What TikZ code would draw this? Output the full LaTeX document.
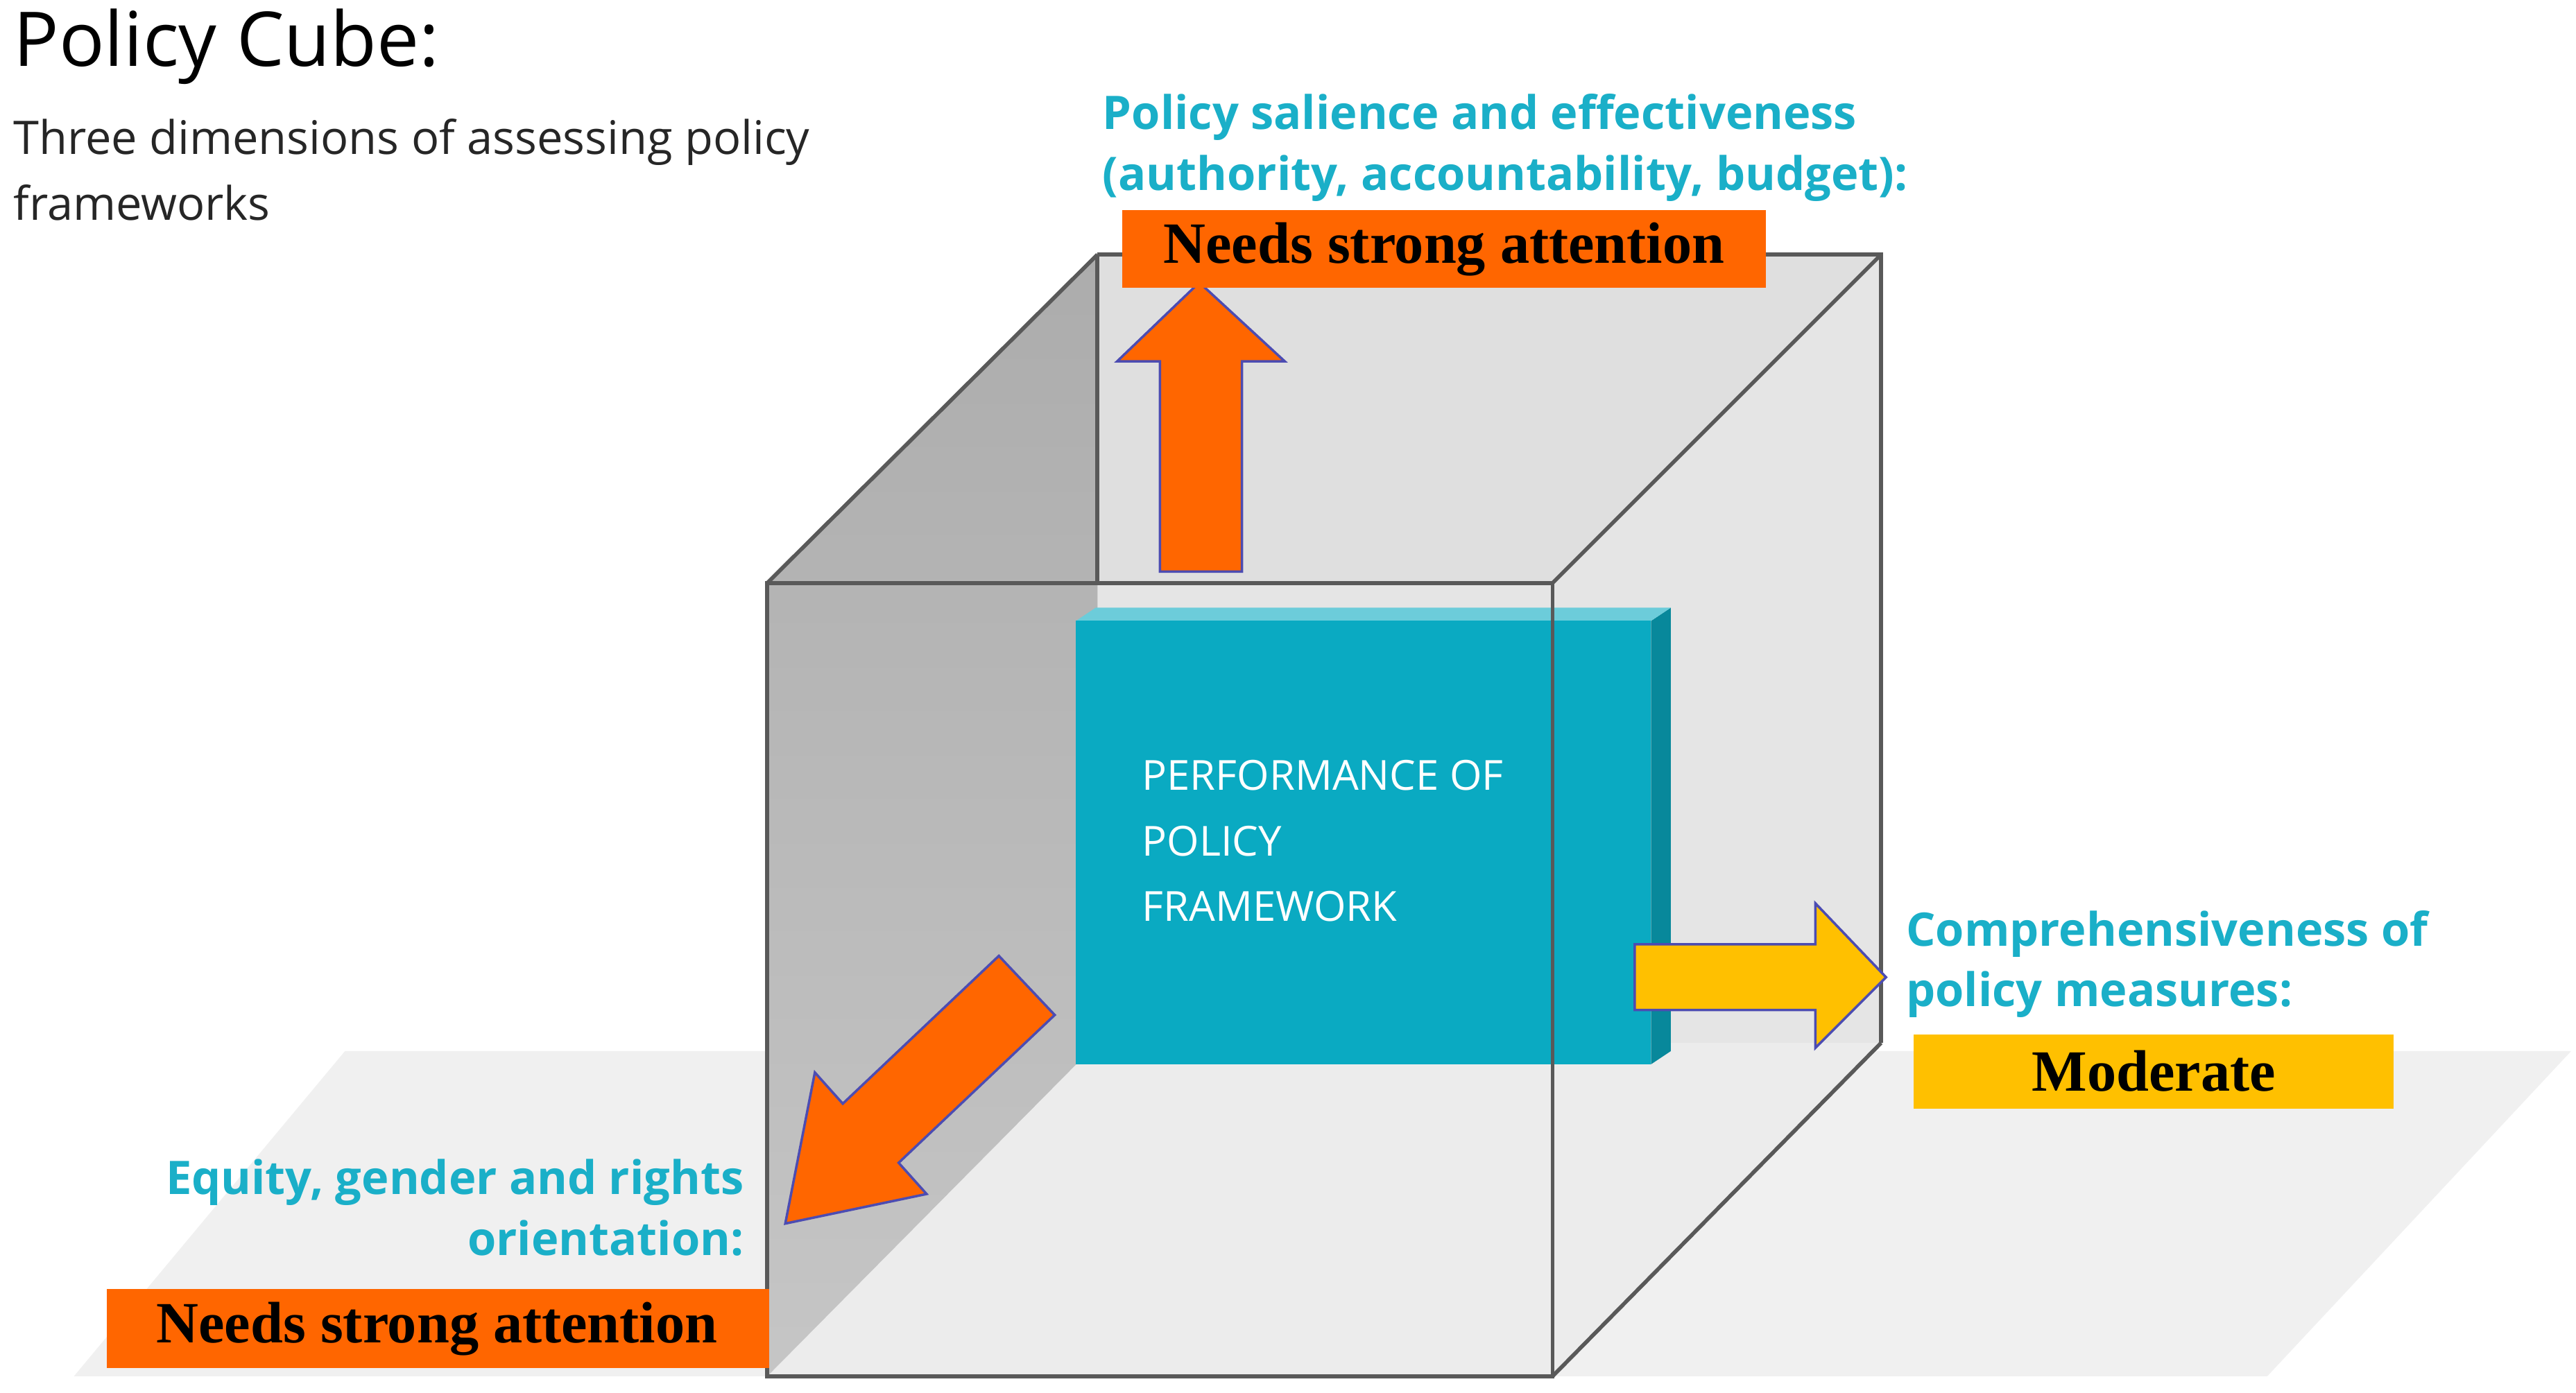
\documentclass[tikz,border=0pt]{standalone}
\usepackage{fontspec}
\setmainfont{Liberation Serif}
\newfontfamily\sansf{Open Sans}
\begin{document}
\begin{tikzpicture}[x=0.0237cm,y=-0.0237cm,
  oarrow/.style={fill=orangeA,draw=blue!40!gray,line width=1pt},
  yarrow/.style={fill=yellowA,draw=blue!40!gray,line width=1pt},
  tlab/.style={font=\sansf\bfseries\fontsize{19}{25}\selectfont,text=tealT,align=left},
  rlab/.style={font=\bfseries\fontsize{24}{28}\selectfont,text=black,inner sep=0pt}]
\definecolor{orangeA}{HTML}{FF6600}
\definecolor{yellowA}{HTML}{FFC000}
\definecolor{tealT}{HTML}{1AAFC8}
\definecolor{tealB}{HTML}{0AAAC2}
\useasboundingbox (0,0) rectangle (1568,848);
\fill[white] (0,0) rectangle (1568,848);
% floor
\fill[gray!12] (45,838) -- (210,640) -- (1565,640) -- (1380,838) -- cycle;
% cube faces
\fill[gray!20] (668,155) rectangle (1145,635);
\fill[gray!15] (668,635) -- (1145,635) -- (945,838) -- (467,838) -- cycle;
\fill[gray!25] (467,355) -- (668,155) -- (1145,155) -- (945,355) -- cycle;
\shade[top color=gray!65,bottom color=gray!45] (467,355) -- (668,155) -- (668,635) -- (467,838) -- cycle;
% teal box
\fill[tealB!80!black] (1005,378) -- (1017,370) -- (1017,640) -- (1005,648) -- cycle;
\fill[tealB!60!white] (655,378) -- (667,370) -- (1017,370) -- (1005,378) -- cycle;
\fill[tealB] (655,378) rectangle (1005,648);
\node[anchor=west,font=\sansf\fontsize{17}{27}\selectfont,text=white,align=left] (perf) at (690,512) {PERFORMANCE OF\\POLICY\\FRAMEWORK};
% cube edges
\draw[gray!70!black,line width=1.6pt] (668,155) -- (1145,155) -- (1145,635) (668,155) -- (668,355);
\draw[gray!70!black,line width=1.6pt] (467,355) rectangle (945,838);
\draw[gray!70!black,line width=1.6pt] (467,355) -- (668,155) (945,355) -- (1145,155) (945,838) -- (1145,635);
% arrows
\draw[oarrow] (706,348) -- (706,220) -- (680,220) -- (730,172) -- (782,220) -- (756,220) -- (756,348) -- cycle;
\draw[yarrow] (995,575) -- (1105,575) -- (1105,550) -- (1148,595) -- (1105,638) -- (1105,615) -- (995,615) -- cycle;
\draw[oarrow] (642,618) -- (547,708) -- (564,727) -- (478,745) -- (496,653) -- (513,672) -- (608,582) -- cycle;
% labels
\fill[orangeA] (683,128) rectangle (1075,175);
\node[rlab] (top) at (879,152) {Needs strong attention};
\fill[orangeA] (65,785) rectangle (468,833);
\node[rlab] (bl) at (266,809) {Needs strong attention};
\fill[yellowA] (1165,630) rectangle (1457,675);
\node[rlab] (mod) at (1311,652) {Moderate};
\node[tlab,anchor=south west] (tt) at (666,128) {Policy salience and effectiveness\\(authority, accountability, budget):};
\node[tlab,anchor=south west] (rt) at (1155,625) {Comprehensiveness of\\policy measures:};
\node[tlab,anchor=south east,align=right] (lt) at (458,770) {Equity, gender and rights\\orientation:};
\node[anchor=north west,font=\sansf\fontsize{31}{36}\selectfont,inner sep=0pt] (title) at (8,5) {Policy Cube:};
\node[anchor=north west,font=\sansf\fontsize{19}{27}\selectfont,text=black!85,align=left,inner sep=0pt] (sub) at (8,72) {Three dimensions of assessing policy\\frameworks};
\end{tikzpicture}
\end{document}
